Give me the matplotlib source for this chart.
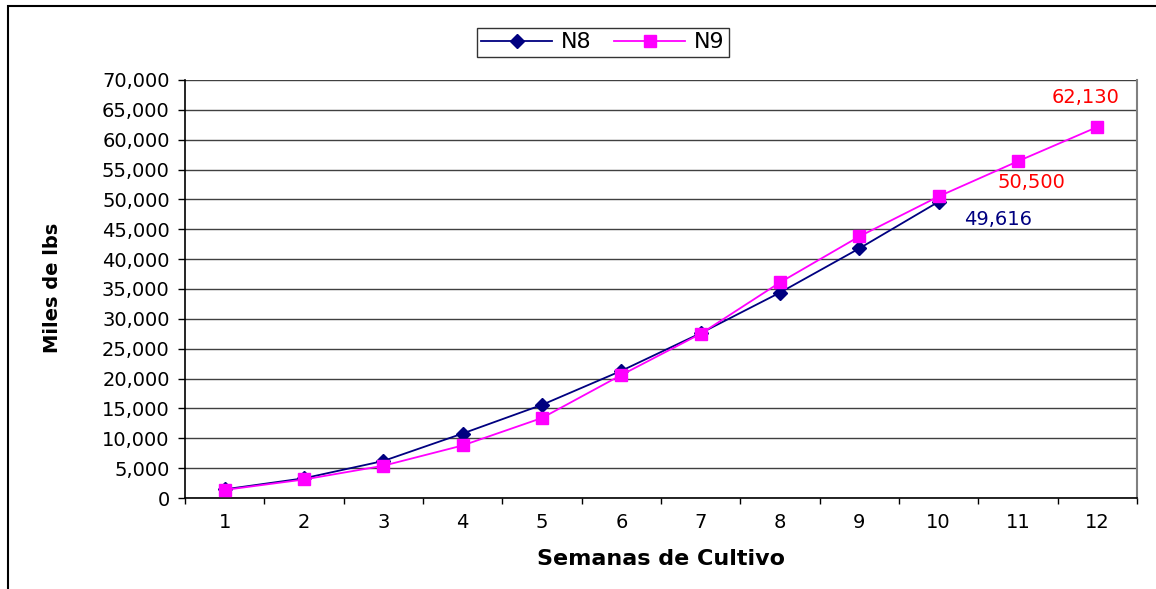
import matplotlib.pyplot as plt
from matplotlib.patches import Rectangle
from matplotlib.ticker import FixedLocator, FuncFormatter, NullFormatter

semanas = ["1", "2", "3", "4", "5", "6", "7", "8", "9", "10", "11", "12"]
n8 = [1450, 3300, 6200, 10800, 15600, 21300, 27600, 34400, 41800, 49616]
n9 = [1350, 3100, 5400, 8800, 13400, 20600, 27500, 36100, 43800, 50500, 56400, 62130]

azul = "#000080"
magenta = "#FF00FF"

plt.rcParams['font.family'] = 'DejaVu Sans'

fig = plt.figure(figsize=(11.56, 5.89), dpi=100)
ax = fig.add_axes([185 / 1156, 1 - 498 / 589, (1137 - 185) / 1156, (498 - 80) / 589])

x8 = list(range(len(n8)))
x9 = list(range(len(n9)))
ax.plot(x8, n8, color=azul, lw=1.3, marker="D", ms=7, mfc=azul, mec=azul, label="N8", zorder=3)
ax.plot(x9, n9, color=magenta, lw=1.3, marker="s", ms=8, mfc=magenta, mec=magenta, label="N9", zorder=4)

# valores finales
ax.annotate(f"{n9[-1]:,}", (x9[-1], n9[-1]), xytext=(-8.5, 21), textcoords="offset points",
            ha="center", va="center", color="red", fontsize=14)
ax.annotate(f"{n9[9]:,}", (x9[9], n9[9]), xytext=(67, 10), textcoords="offset points",
            ha="center", va="center", color="red", fontsize=14)
ax.annotate(f"{n8[-1]:,}", (x8[-1], n8[-1]), xytext=(43, -13), textcoords="offset points",
            ha="center", va="center", color=azul, fontsize=14)

ax.set_xlim(-0.5, len(semanas) - 0.5)
ax.set_ylim(0, 70000)
ax.set_yticks(range(0, 70001, 5000))
ax.yaxis.set_major_formatter(FuncFormatter(lambda v, p: f"{int(v):,}"))
ax.grid(axis="y", color="#404040", lw=1)
ax.set_axisbelow(True)

# marcas entre categorias, etiquetas al centro
ax.xaxis.set_major_locator(FixedLocator([i - 0.5 for i in range(len(semanas) + 1)]))
ax.xaxis.set_major_formatter(NullFormatter())
ax.xaxis.set_minor_locator(FixedLocator(range(len(semanas))))
ax.set_xticklabels(semanas, minor=True)
ax.tick_params(axis="x", which="major", direction="out", length=4, width=1, color="black")
ax.tick_params(axis="x", which="minor", length=0, pad=11, labelsize=14)
ax.tick_params(axis="y", direction="out", length=5, width=1, pad=6, labelsize=14)

for lado in ["left", "bottom"]:
    ax.spines[lado].set_color("black")
    ax.spines[lado].set_linewidth(1.2)
ax.spines["right"].set_color("#808080")
ax.spines["right"].set_linewidth(1.5)
ax.spines["top"].set_visible(False)

ax.set_xlabel("Semanas de Cultivo", fontsize=16, fontweight="bold", labelpad=12)
fig.text(52 / 1156, 1 - 288 / 589, "Miles de lbs", rotation=90, fontsize=14, fontweight="bold",
         ha="center", va="center")

leg = fig.legend(loc="center", bbox_to_anchor=(603 / 1156, 1 - 42.5 / 589), ncol=2, fontsize=16,
                 frameon=True, fancybox=False, edgecolor="black", handlelength=3.2,
                 borderpad=0.2, columnspacing=1.0, handletextpad=0.4)
leg.get_frame().set_linewidth(1)

# marco exterior
fig.patches.append(Rectangle((8 / 1156, -0.1), 1.2, 1 - 6 / 589 + 0.1, transform=fig.transFigure,
                             fill=False, edgecolor="black", lw=1.5))

fig.savefig("out.png", dpi=100)
